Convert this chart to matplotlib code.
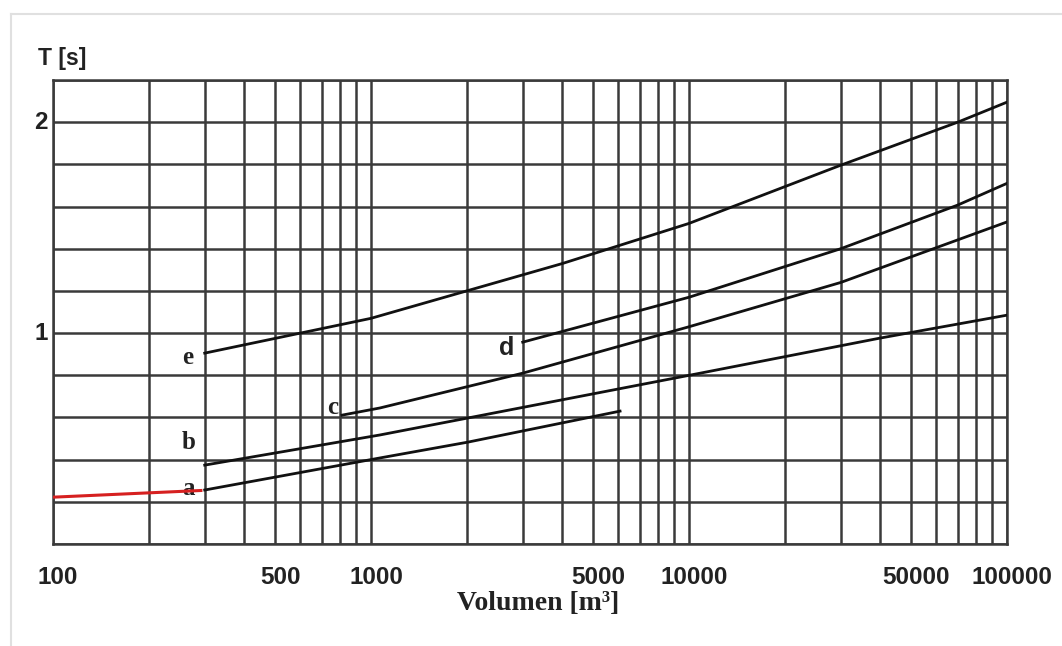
import matplotlib
matplotlib.use("Agg")
import matplotlib.pyplot as plt
from matplotlib.lines import Line2D

# ---- data ----
red_x = [100, 295]
red_y = [0.222, 0.254]

a_x = [300, 1067, 2017, 6070]
a_y = [0.256, 0.408, 0.483, 0.630]

b_x = [300, 1067, 10850, 39800, 100000]
b_y = [0.374, 0.517, 0.810, 0.976, 1.085]

c_x = [811, 1067, 3000, 10000, 30000, 100000]
c_y = [0.611, 0.645, 0.810, 1.030, 1.240, 1.527]

d_x = [3000, 10000, 30000, 70000, 100000]
d_y = [0.957, 1.170, 1.400, 1.607, 1.710]

e_x = [300, 1000, 2000, 4000, 10000, 30000, 70000, 100000]
e_y = [0.905, 1.070, 1.200, 1.330, 1.520, 1.796, 2.000, 2.095]

curve_names = ["a", "b", "c", "d", "e"]
label_x = [266, 266, 759, 2680, 266]
label_y = [0.262, 0.479, 0.645, 0.929, 0.886]

x_tick_values = [100, 500, 1000, 5000, 10000, 50000, 100000]
x_tick_labels = ["100", "500", "1000", "5000", "10000", "50000", "100000"]
y_tick_values = [1, 2]
y_tick_labels = ["1", "2"]

# ---- figure ----
W, H = 1062, 646
fig = plt.figure(figsize=(W / 100, H / 100), dpi=100)
fig.patch.set_facecolor("white")

# light frame of the screenshot
fig.add_artist(Line2D([11 / W, 11 / W], [0, 1 - 14 / H], transform=fig.transFigure,
                      color="#e0e0e0", lw=1.5))
fig.add_artist(Line2D([11 / W, 1], [1 - 14 / H, 1 - 14 / H], transform=fig.transFigure,
                      color="#e0e0e0", lw=1.5))

ax = fig.add_axes([53 / W, 1 - 544 / H, (1007 - 53) / W, (544 - 80) / H])
ax.set_xscale("log")
ax.set_xlim(100, 100000)
ax.set_ylim(0, 2.2)

# gridlines at every log subdivision and every 0.2 s
grid_x = [k * 10 ** p for p in (2, 3, 4) for k in range(1, 10)] + [100000]
grid_y = [round(0.2 * i, 1) for i in range(0, 12)]
ax.set_xticks(grid_x, minor=False)
ax.set_xticklabels([""] * len(grid_x))
ax.set_xticks([], minor=True)
ax.set_yticks(grid_y)
ax.set_yticklabels([""] * len(grid_y))
ax.grid(True, which="major", color="#3a3a3a", lw=1.8)
ax.tick_params(length=0)
for s in ax.spines.values():
    s.set_color("#3a3a3a")
    s.set_linewidth(1.8)

tick_font = dict(family=["Liberation Sans", "DejaVu Sans"], weight="bold", size=17.5, color="#222222")
for v, t in zip(x_tick_values, x_tick_labels):
    ax.annotate(t, xy=(v, 0), xycoords=("data", "axes fraction"),
                xytext=(5, -34), textcoords="offset pixels",
                ha="center", va="center", **tick_font)
for v, t in zip(y_tick_values, y_tick_labels):
    ax.annotate(t, xy=(0, v), xycoords=("axes fraction", "data"),
                xytext=(-12, 0), textcoords="offset pixels",
                ha="center", va="center", **tick_font)

fig.text(38 / W, 1 - 58 / H, "T [s]", ha="left", va="center",
         family=["Liberation Sans", "DejaVu Sans"], weight="bold", size=16.5, color="#222222")
fig.text(538 / W, 1 - 603 / H, "Volumen [m³]", ha="center", va="center",
         family=["Liberation Serif", "DejaVu Serif"], weight="bold", size=20, color="#222222")

# curves
for xs, ys in [(a_x, a_y), (b_x, b_y), (c_x, c_y), (d_x, d_y), (e_x, e_y)]:
    ax.plot(xs, ys, color="#111111", lw=2.0, zorder=3)

for name, lx, ly in zip(curve_names, label_x, label_y):
    fam = ["Liberation Sans", "DejaVu Sans"] if name == "d" else ["Liberation Serif", "DejaVu Serif"]
    ax.text(lx, ly, name, ha="center", va="center", family=fam, weight="bold",
            size=18, color="#222222", zorder=4)

ax.plot(red_x, red_y, color="#d62020", lw=2.2, solid_capstyle="butt", zorder=5)

fig.savefig("out.png", dpi=100)
